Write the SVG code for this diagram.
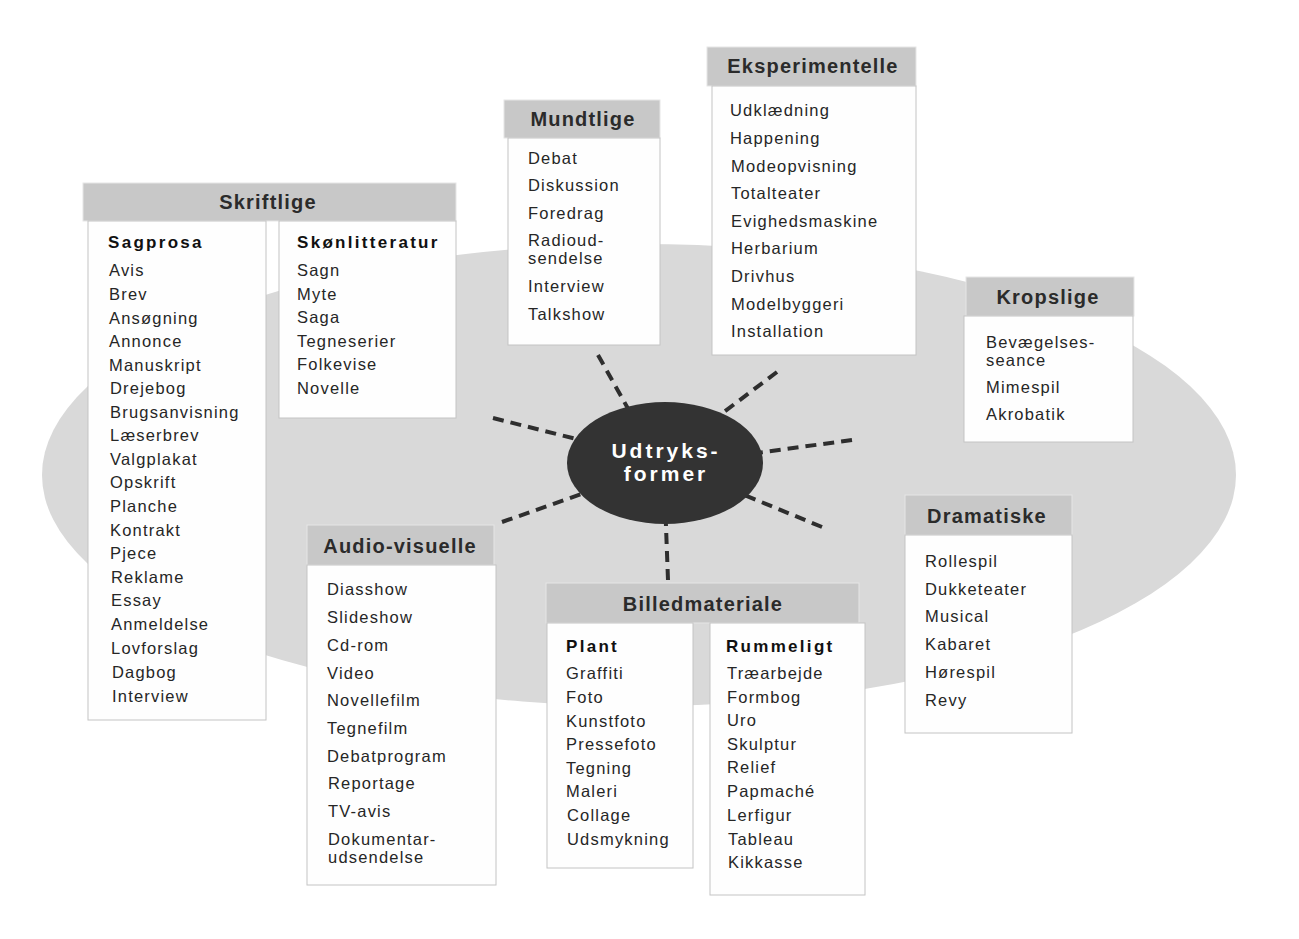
<svg xmlns="http://www.w3.org/2000/svg" width="1299" height="939" viewBox="0 0 1299 939">
<style>
.hd{fill:#c8c8c8;stroke:#e6e6e6;stroke-width:1}
.bd{fill:#fefefe;stroke:#c4c4c4;stroke-width:1}
.t{font-family:"Liberation Sans",Arial,sans-serif;font-size:16.5px;letter-spacing:1.2px;fill:#262626}
.h{font-family:"Liberation Sans",Arial,sans-serif;font-size:20px;font-weight:bold;letter-spacing:1.2px;fill:#2b2b2b;text-anchor:middle}
.s{font-family:"Liberation Sans",Arial,sans-serif;font-size:17px;font-weight:bold;letter-spacing:2.3px;fill:#111}
.c{font-family:"Liberation Sans",Arial,sans-serif;font-size:21px;font-weight:bold;letter-spacing:3px;fill:#ffffff;text-anchor:middle}
.sp{stroke:#2e2e2e;stroke-width:4;stroke-dasharray:11 7;fill:none}
</style>
<rect x="0" y="0" width="1299" height="939" fill="#ffffff"/>
<ellipse id="background" cx="639" cy="475" rx="597" ry="231" fill="#d9d9d9"/>

<g id="connectors">
<line class="sp" x1="598" y1="355" x2="640" y2="430"/>
<line class="sp" x1="777" y1="372" x2="700" y2="430"/>
<line class="sp" x1="493" y1="418" x2="620" y2="450"/>
<line class="sp" x1="852" y1="440" x2="720" y2="458"/>
<line class="sp" x1="502" y1="522" x2="610" y2="484"/>
<line class="sp" x1="822" y1="527" x2="720" y2="485"/>
<line class="sp" x1="668" y1="580" x2="665" y2="500"/>
</g>

<g id="center">
<ellipse cx="665" cy="463" rx="98" ry="61" fill="#333333"/>
<text class="c" x="666" y="458">Udtryks-</text>
<text class="c" x="666" y="481">former</text>
</g>

<g id="skriftlige">
<rect class="hd" x="83" y="183" width="373" height="38"/>
<rect class="bd" x="88" y="221" width="178" height="499"/>
<rect class="bd" x="279" y="221" width="177" height="197"/>
<text class="h" x="268" y="209">Skriftlige</text>
<text class="s" x="108" y="248">Sagprosa</text>
<text class="t" x="109" y="276">Avis</text>
<text class="t" x="109" y="300">Brev</text>
<text class="t" x="109" y="324">Ansøgning</text>
<text class="t" x="109" y="347">Annonce</text>
<text class="t" x="109" y="371">Manuskript</text>
<text class="t" x="110" y="394">Drejebog</text>
<text class="t" x="110" y="418">Brugsanvisning</text>
<text class="t" x="110" y="441">Læserbrev</text>
<text class="t" x="110" y="465">Valgplakat</text>
<text class="t" x="110" y="488">Opskrift</text>
<text class="t" x="110" y="512">Planche</text>
<text class="t" x="110" y="536">Kontrakt</text>
<text class="t" x="110" y="559">Pjece</text>
<text class="t" x="111" y="583">Reklame</text>
<text class="t" x="111" y="606">Essay</text>
<text class="t" x="111" y="630">Anmeldelse</text>
<text class="t" x="111" y="654">Lovforslag</text>
<text class="t" x="112" y="678">Dagbog</text>
<text class="t" x="112" y="702">Interview</text>
<text class="s" x="297" y="248">Skønlitteratur</text>
<text class="t" x="297" y="276">Sagn</text>
<text class="t" x="297" y="300">Myte</text>
<text class="t" x="297" y="323">Saga</text>
<text class="t" x="297" y="347">Tegneserier</text>
<text class="t" x="297" y="370">Folkevise</text>
<text class="t" x="297" y="394">Novelle</text>
</g>

<g id="mundtlige">
<rect class="hd" x="504" y="100" width="156" height="38"/>
<rect class="bd" x="508" y="138" width="152" height="207"/>
<text class="h" x="583" y="126">Mundtlige</text>
<text class="t" x="528" y="164">Debat</text>
<text class="t" x="528" y="191">Diskussion</text>
<text class="t" x="528" y="219">Foredrag</text>
<text class="t" x="528" y="246">Radioud-</text>
<text class="t" x="528" y="264">sendelse</text>
<text class="t" x="528" y="292">Interview</text>
<text class="t" x="528" y="320">Talkshow</text>
</g>

<g id="eksperimentelle">
<rect class="hd" x="707" y="47" width="209" height="39"/>
<rect class="bd" x="712" y="86" width="204" height="269"/>
<text class="h" x="813" y="73">Eksperimentelle</text>
<text class="t" x="730" y="116">Udklædning</text>
<text class="t" x="730" y="144">Happening</text>
<text class="t" x="731" y="172">Modeopvisning</text>
<text class="t" x="731" y="199">Totalteater</text>
<text class="t" x="731" y="227">Evighedsmaskine</text>
<text class="t" x="731" y="254">Herbarium</text>
<text class="t" x="731" y="282">Drivhus</text>
<text class="t" x="731" y="310">Modelbyggeri</text>
<text class="t" x="731" y="337">Installation</text>
</g>

<g id="kropslige">
<rect class="hd" x="966" y="277" width="168" height="39"/>
<rect class="bd" x="964" y="316" width="169" height="126"/>
<text class="h" x="1048" y="304">Kropslige</text>
<text class="t" x="986" y="348">Bevægelses-</text>
<text class="t" x="986" y="366">seance</text>
<text class="t" x="986" y="393">Mimespil</text>
<text class="t" x="986" y="420">Akrobatik</text>
</g>

<g id="dramatiske">
<rect class="hd" x="905" y="495" width="167" height="40"/>
<rect class="bd" x="905" y="535" width="167" height="198"/>
<text class="h" x="987" y="523">Dramatiske</text>
<text class="t" x="925" y="567">Rollespil</text>
<text class="t" x="925" y="595">Dukketeater</text>
<text class="t" x="925" y="622">Musical</text>
<text class="t" x="925" y="650">Kabaret</text>
<text class="t" x="925" y="678">Hørespil</text>
<text class="t" x="925" y="706">Revy</text>
</g>

<g id="audio-visuelle">
<rect class="hd" x="307" y="525" width="187" height="40"/>
<rect class="bd" x="307" y="565" width="189" height="320"/>
<text class="h" x="400" y="553">Audio-visuelle</text>
<text class="t" x="327" y="595">Diasshow</text>
<text class="t" x="327" y="623">Slideshow</text>
<text class="t" x="327" y="651">Cd-rom</text>
<text class="t" x="327" y="679">Video</text>
<text class="t" x="327" y="706">Novellefilm</text>
<text class="t" x="327" y="734">Tegnefilm</text>
<text class="t" x="327" y="762">Debatprogram</text>
<text class="t" x="328" y="789">Reportage</text>
<text class="t" x="328" y="817">TV-avis</text>
<text class="t" x="328" y="845">Dokumentar-</text>
<text class="t" x="328" y="863">udsendelse</text>
</g>

<g id="billedmateriale">
<rect class="hd" x="546" y="583" width="313" height="40"/>
<rect class="bd" x="547" y="623" width="146" height="245"/>
<rect class="bd" x="710" y="623" width="155" height="272"/>
<text class="h" x="703" y="611">Billedmateriale</text>
<text class="s" x="566" y="652">Plant</text>
<text class="t" x="566" y="679">Graffiti</text>
<text class="t" x="566" y="703">Foto</text>
<text class="t" x="566" y="727">Kunstfoto</text>
<text class="t" x="566" y="750">Pressefoto</text>
<text class="t" x="566" y="774">Tegning</text>
<text class="t" x="566" y="797">Maleri</text>
<text class="t" x="567" y="821">Collage</text>
<text class="t" x="567" y="845">Udsmykning</text>
<text class="s" x="726" y="652">Rummeligt</text>
<text class="t" x="727" y="679">Træarbejde</text>
<text class="t" x="727" y="703">Formbog</text>
<text class="t" x="727" y="726">Uro</text>
<text class="t" x="727" y="750">Skulptur</text>
<text class="t" x="727" y="773">Relief</text>
<text class="t" x="727" y="797">Papmaché</text>
<text class="t" x="727" y="821">Lerfigur</text>
<text class="t" x="728" y="845">Tableau</text>
<text class="t" x="728" y="868">Kikkasse</text>
</g>
</svg>
